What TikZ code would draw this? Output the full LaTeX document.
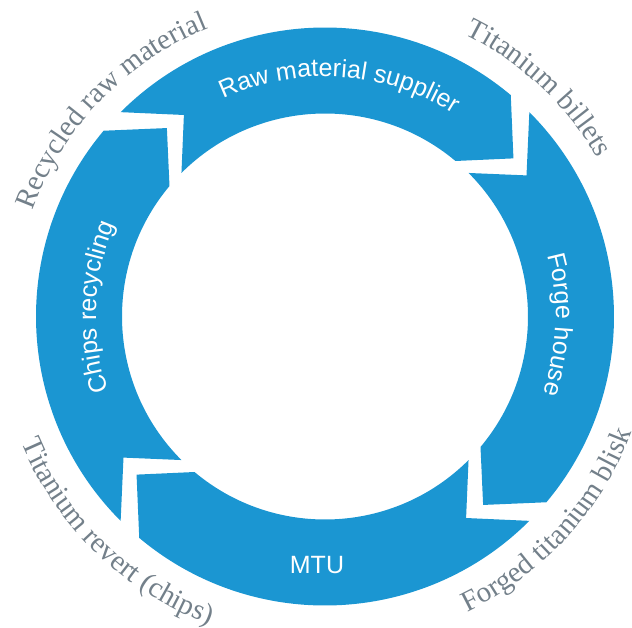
\documentclass[tikz,border=0pt]{standalone}
\usepackage{fontspec}
\setmainfont{Liberation Serif}
\newfontfamily\ringsans{Liberation Sans}
\usetikzlibrary{decorations.text}
\definecolor{ringblue}{RGB}{27,150,210}
\definecolor{labelgray}{RGB}{115,128,138}
\newcommand{\inlabel}{\ringsans\fontsize{25}{30}\selectfont\color{white}}
\newcommand{\outlabel}{\fontsize{29}{33}\selectfont\color{labelgray}}
\tikzset {
    style seg/.style={
        fill=ringblue,
        draw=none,
    },
    style in/.style={
        decorate,
        decoration={text along path, text align=center, text={|\inlabel|#1}},
    },
    style out/.style={
        decorate,
        decoration={text along path, text align=center, text={|\outlabel|#1}},
    },
}
\begin{document}
\begin{tikzpicture}
    \useasboundingbox (-325pt,-310.5pt) rectangle (307pt,316.5pt);

    % four arrow segments, clockwise
    \fill[style seg] (135:289pt) arc[start angle=135, end angle=50, radius=289pt]
        -- (40:246pt) -- (50:203pt) arc[start angle=50, end angle=135, radius=203pt]
        -- (125:246pt) -- cycle;
    \fill[style seg] (45:289pt) arc[start angle=45, end angle=-40, radius=289pt]
        -- (-50:246pt) -- (-40:203pt) arc[start angle=-40, end angle=45, radius=203pt]
        -- (35:246pt) -- cycle;
    \fill[style seg] (-45:289pt) arc[start angle=-45, end angle=-130, radius=289pt]
        -- (-140:246pt) -- (-130:203pt) arc[start angle=-130, end angle=-45, radius=203pt]
        -- (-55:246pt) -- cycle;
    \fill[style seg] (225:289pt) arc[start angle=225, end angle=140, radius=289pt]
        -- (130:246pt) -- (140:203pt) arc[start angle=140, end angle=225, radius=203pt]
        -- (215:246pt) -- cycle;

    % stage names
    \path[style in={Raw material supplier}] (126.4:240pt) arc[start angle=126.4, end angle=46.4, radius=240pt];
    \path[style in={Forge house}] (38:231pt) arc[start angle=38, end angle=-42, radius=231pt];
    \path[style in={Chips recycling}] (217.6:229pt) arc[start angle=217.6, end angle=137.6, radius=229pt];
    \node[font=\inlabel, inner sep=0pt] (mtu) at (-8pt,-249pt) {MTU};

    % material flows
    \path[style out={Recycled raw material}] (176:311pt) arc[start angle=176, end angle=96, radius=311pt];
    \path[style out={Titanium billets}] (86.9:315pt) arc[start angle=86.9, end angle=6.9, radius=315pt];
    \path[style out={Forged titanium blisk}] (-82.5:328pt) arc[start angle=-82.5, end angle=-2.5, radius=328pt];
    \path[style out={Titanium revert (chips)}] (186:329pt) arc[start angle=186, end angle=266, radius=329pt];
\end{tikzpicture}
\end{document}
